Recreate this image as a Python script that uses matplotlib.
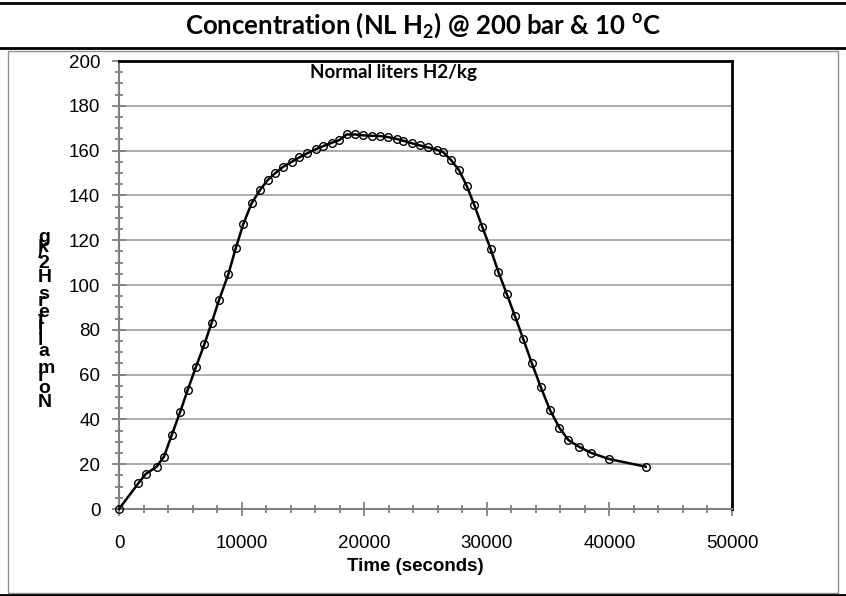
import matplotlib
matplotlib.use('Agg')
import matplotlib.pyplot as plt
from matplotlib.lines import Line2D
from matplotlib.patches import Rectangle
from matplotlib.font_manager import FontProperties
from matplotlib.ticker import MultipleLocator

plt.rcParams['font.family'] = ['Liberation Sans', 'DejaVu Sans']
plt.rcParams['mathtext.fontset'] = 'custom'
plt.rcParams['mathtext.rm'] = 'Lato:bold'
plt.rcParams['mathtext.bf'] = 'Lato:bold'

title_text = 'Concentration (NL H$_\\mathrm{2}$) @ 200 bar & 10 $^\\mathrm{o}$C'
series_label = 'Normal liters H2/kg'
ylabel_text = 'Normal liters H2/kg'
xlabel_text = 'Time (seconds)'

# time (s) and normal liters H2 per kg
time_s = [0, 1580, 2180, 3070, 3670, 4300, 4980, 5600, 6280, 6960,
          7560, 8160, 8920, 9520, 10140, 10820, 11500, 12130, 12730, 13400,
          14090, 14710, 15360, 16040, 16670, 17350, 17970, 18570, 19250, 19930,
          20610, 21290, 21970, 22650, 23200, 23880, 24550, 25230, 25910, 26460,
          27080, 27730, 28360, 28980, 29640, 30320, 30940, 31630, 32300, 32980,
          33680, 34390, 35150, 35920, 36650, 37520, 38500, 39970, 42960]
nl_h2 = [0, 11.5, 15.6, 18.9, 23.4, 33.0, 43.2, 53.1, 63.5, 73.5,
         83.2, 93.3, 104.8, 116.4, 127.2, 136.5, 142.4, 146.9, 149.9, 152.8,
         155.0, 157.0, 158.8, 160.6, 162.0, 163.5, 164.7, 167.2, 167.2, 166.8,
         166.6, 166.5, 166.0, 165.2, 164.4, 163.3, 162.3, 161.4, 160.4, 159.2,
         155.8, 151.3, 144.3, 135.7, 125.8, 115.9, 105.9, 96.0, 86.0, 75.8,
         65.0, 54.6, 44.2, 36.3, 30.8, 27.8, 25.1, 22.3, 18.9]

W, H = 846, 596
fig = plt.figure(figsize=(W / 100, H / 100), dpi=100)

# table-like frame around the chart
fig.add_artist(Line2D([0, 1], [1 - 2.5 / H] * 2, transform=fig.transFigure, color='black', lw=2))
fig.add_artist(Line2D([0, 1], [1 - 48 / H] * 2, transform=fig.transFigure, color='black', lw=2))
fig.add_artist(Rectangle((8 / W, 1 - 593 / H), 830 / W, 542 / H, transform=fig.transFigure,
                         fill=False, ec='#909090', lw=1))
fig.add_artist(Line2D([0, 1], [1 - 594.5 / H] * 2, transform=fig.transFigure, color='black', lw=2))

fig.text(423 / W, 1 - 25 / H, title_text, ha='center', va='center', fontsize=18.5,
         family='Lato', weight='bold')

ax = fig.add_axes([119 / W, 1 - 509 / H, 613 / W, 448 / H])
ax.plot(time_s, nl_h2, color='black', lw=1.8, marker='o', ms=5.5, mfc='none',
        mec='black', mew=1, clip_on=False, zorder=3)

ax.set_xlim(0, 50000)
ax.set_ylim(0, 200)
ax.xaxis.set_major_locator(MultipleLocator(10000))
ax.xaxis.set_minor_locator(MultipleLocator(2000))
ax.yaxis.set_major_locator(MultipleLocator(20))
ax.yaxis.set_minor_locator(MultipleLocator(5))
ax.tick_params(which='major', direction='inout', length=10, width=1.3, color='#808080',
               labelsize=13.5, labelcolor='black')
ax.tick_params(which='minor', direction='inout', length=6, width=1.3, color='#808080')
ax.tick_params(axis='y', which='major', pad=8.5)
ax.tick_params(axis='x', which='major', pad=13.5)
ax.yaxis.grid(True, color='#a0a0a0', lw=1.2)
ax.set_axisbelow(True)

for side in ['left', 'bottom']:
    ax.spines[side].set_color('#808080')
    ax.spines[side].set_linewidth(1.5)
for side in ['top', 'right']:
    ax.spines[side].set_color('black')
    ax.spines[side].set_linewidth(2)

ax.set_xlabel(xlabel_text, fontsize=13.5, weight='bold')
ax.xaxis.set_label_coords(0.484, -0.109)

ax.text((393 - 119) / 613, (509 - 78) / 448, series_label, transform=ax.transAxes,
        ha='center', va='baseline', fontsize=13.5, family='Lato', weight='bold')

# y label drawn as upright glyphs stacked bottom to top, as in the source picture
renderer = fig.canvas.get_renderer()
prop = FontProperties(family='Liberation Sans', size=14, weight='bold')
base = 407
for k, ch in enumerate(ylabel_text):
    if ch == ' ':
        continue
    w_all = renderer.get_text_width_height_descent(ylabel_text[:k + 1], prop, ismath=False)[0]
    w_ch = renderer.get_text_width_height_descent(ch, prop, ismath=False)[0]
    yk = base - (w_all - w_ch)
    fig.text(38 / W, 1 - yk / H, ch, fontproperties=prop, ha='left', va='baseline')

fig.savefig('out.png', dpi=100)
